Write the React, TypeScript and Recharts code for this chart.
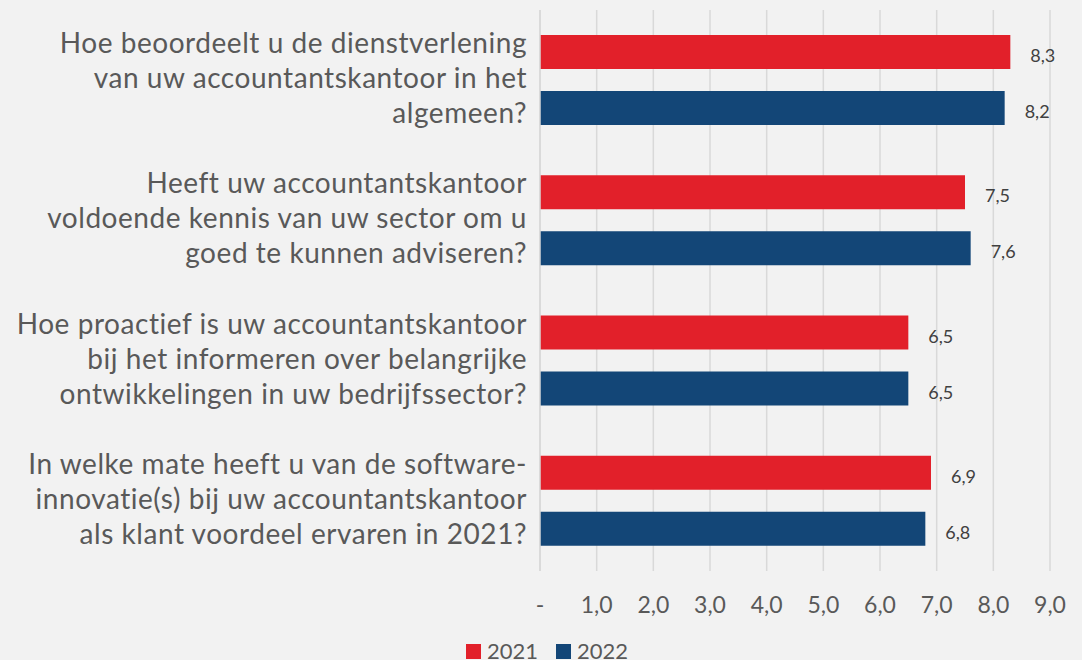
import React from 'react';
import { BarChart, Bar, XAxis, YAxis, CartesianGrid, LabelList, Legend } from 'recharts';

const categories: string[] = [
  'Hoe beoordeelt u de dienstverlening\nvan uw accountantskantoor in het\nalgemeen?',
  'Heeft uw accountantskantoor\nvoldoende kennis van uw sector om u\ngoed te kunnen adviseren?',
  'Hoe proactief is uw accountantskantoor\nbij het informeren over belangrijke\nontwikkelingen in uw bedrijfssector?',
  'In welke mate heeft u van de software-\ninnovatie(s) bij uw accountantskantoor\nals klant voordeel ervaren in 2021?',
];
const values2021: number[] = [8.3, 7.5, 6.5, 6.9];
const values2022: number[] = [8.2, 7.6, 6.5, 6.8];
const xTicks: number[] = [0, 1, 2, 3, 4, 5, 6, 7, 8, 9];
const seriesNames: string[] = ['2021', '2022'];

const RED = '#E2202A';
const BLUE = '#134677';
const FONT = 'Lato, "Open Sans", sans-serif';

const data = categories.map((c, i) => ({ cat: c, y2021: values2021[i], y2022: values2022[i] }));

const fmt = (v: number) => (v === 0 ? '-' : v.toFixed(1).replace('.', ','));

const YTick = (props: any) => {
  const { x, y, payload } = props;
  const lines = String(payload.value).split('\n');
  const lh = 35;
  return (
    <text x={x} y={y} textAnchor="end" fill="#595959" fontSize={28} letterSpacing={0.55} fontFamily={FONT}>
      {lines.map((l, i) => (
        <tspan key={i} x={x} y={y + (i - (lines.length - 1) / 2) * lh + 8}>
          {l}
        </tspan>
      ))}
    </text>
  );
};

const XTick = (props: any) => {
  const { x, y, payload } = props;
  return (
    <text x={x} y={y} textAnchor="middle" fill="#595959" fontSize={23} fontFamily={FONT}>
      <tspan x={x} y={y + 34}>{fmt(payload.value)}</tspan>
    </text>
  );
};

const makeLabel = () => (props: any) => {
  const { x, y, width, height, value } = props;
  return (
    <text x={x + width + 20} y={y + height / 2 + 10} fill="#404040" fontSize={18} fontFamily={FONT}>
      {fmt(Number(value))}
    </text>
  );
};

const LegendContent = () => (
  <div style={{ height: 0, overflow: 'visible', position: 'relative' }}>
    <div
      style={{
        position: 'absolute',
        left: 466,
        top: 640,
        display: 'flex',
        whiteSpace: 'nowrap',
        fontFamily: FONT,
        fontSize: 22,
        lineHeight: '22px',
        color: '#595959',
      }}
    >
      {seriesNames.map((n, i) => (
        <span key={n} style={{ marginRight: i === 0 ? 18 : 0 }}>
          <span
            style={{
              display: 'inline-block',
              width: 15,
              height: 15,
              background: i === 0 ? RED : BLUE,
              marginRight: 6,
              verticalAlign: 'baseline',
            }}
          />
          {n}
        </span>
      ))}
    </div>
  </div>
);

export default function App() {
  return (
    <div style={{ position: 'absolute', left: 0, top: 0, width: 1082, height: 660, background: '#F2F2F2', overflow: 'hidden' }}>
      <BarChart
        width={1082}
        height={660}
        data={data}
        layout="vertical"
        margin={{ top: 10, right: 32, left: 0, bottom: 0 }}
        barSize={34}
        barGap={22}
      >
        <CartesianGrid horizontal={false} vertical stroke="#D9D9D9" strokeWidth={1.5} />
        <XAxis
          type="number"
          domain={[0, 9]}
          ticks={xTicks}
          interval={0}
          axisLine={false}
          tickLine={false}
          height={89}
          tick={<XTick />}
        />
        <YAxis
          type="category"
          dataKey="cat"
          width={540}
          axisLine={{ stroke: '#D9D9D9', strokeWidth: 1.5 }}
          tickLine={false}
          tickSize={0}
          tickMargin={13}
          interval={0}
          tick={<YTick />}
        />
        <Legend
          verticalAlign="bottom"
          wrapperStyle={{ position: 'absolute', left: 0, top: 0, width: 0, height: 0 }}
          content={<LegendContent />}
        />
        <Bar dataKey="y2021" name="2021" fill={RED} isAnimationActive={false}>
          <LabelList dataKey="y2021" content={makeLabel()} />
        </Bar>
        <Bar dataKey="y2022" name="2022" fill={BLUE} isAnimationActive={false}>
          <LabelList dataKey="y2022" content={makeLabel()} />
        </Bar>
      </BarChart>
    </div>
  );
}
